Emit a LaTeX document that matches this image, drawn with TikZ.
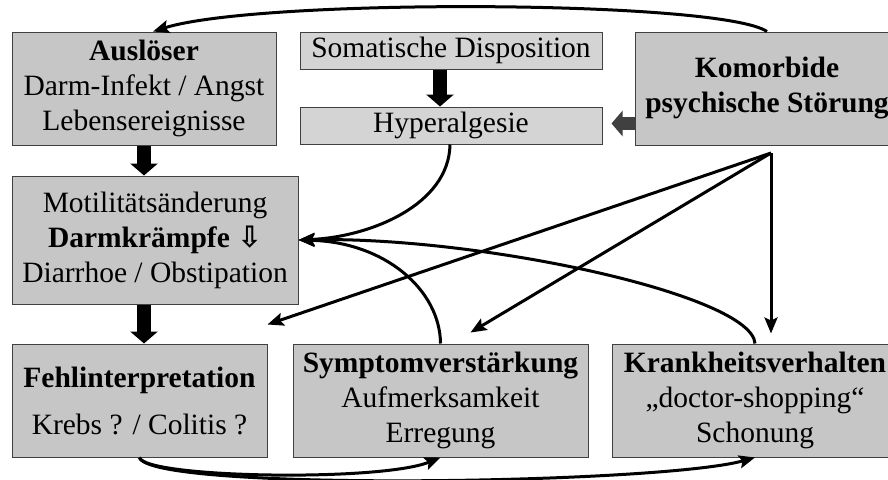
\documentclass[tikz,border=0pt]{standalone}
\usepackage{fontspec}
\setmainfont{Liberation Serif}
\newfontfamily\arrowfont{DejaVu Sans}
\usetikzlibrary{arrows.meta}
\definecolor{lightbox}{RGB}{212,212,212}
\definecolor{darkbox}{RGB}{198,198,198}
\definecolor{edgegray}{RGB}{64,64,64}
\tikzset{
  box/.style={draw=edgegray, line width=1pt, fill=darkbox, align=center, inner sep=0pt,
    font=\fontsize{29.5}{35}\selectfont},
  bigarrow/.style={line width=14pt, -{Triangle[length=12pt,width=27pt]}},
  link/.style={line width=3pt, -{Stealth[length=16pt,width=13pt,inset=3pt]}}
}

\begin{document}
\begin{tikzpicture}[x=1pt, y=-1pt]
        \useasboundingbox (0,0) rectangle (888,479);
        \clip (0,0) rectangle (888,479);
        % top row
        \node[box, minimum width=264pt, minimum height=113pt] (ausl) at (144,88.5)
            {\textbf{Auslöser}\\Darm-Infekt / Angst\\Lebensereignisse};
        \node[box, fill=lightbox, minimum width=302pt, minimum height=37pt] (soma) at (451,50.5)
            {Somatische Disposition};
        \node[box, fill=lightbox, minimum width=302pt, minimum height=37pt] (hyper) at (451,125.5)
            {Hyperalgesie};
        \node[box, minimum width=264pt, minimum height=113pt] (komor) at (767,88.5)
            {\textbf{Komorbide}\\\textbf{psychische Störung}};
        % middle row
        \node[box, minimum width=286pt, minimum height=128pt] (motil) at (155,240)
            {Motilitätsänderung\\\textbf{Darmkrämpfe {\arrowfont ⇩}}\\Diarrhoe / Obstipation};
        % bottom row
        \node[box, minimum width=255pt, minimum height=113pt] (fehl) at (139.5,400.5)
            {\textbf{Fehlinterpretation}\\[12pt]Krebs ? / Colitis ?};
        \node[box, minimum width=295pt, minimum height=113pt] (sympt) at (440.5,400.5)
            {\textbf{Symptomverstärkung}\\Aufmerksamkeit\\Erregung};
        \node[box, minimum width=286pt, minimum height=113pt] (krank) at (755,400.5)
            {\textbf{Krankheitsverhalten}\\„doctor-shopping“\\Schonung};
        % block arrows
        \draw[bigarrow] (ausl.south) -- (ausl.south |- motil.north);
        \draw[bigarrow] (motil.south -| ausl.south) -- (ausl.south |- fehl.north);
        \draw[bigarrow] ([xshift=-11pt]soma.south) -- ([xshift=-11pt]hyper.north);
        \draw[bigarrow, draw=edgegray, line width=13pt, -{Triangle[length=11pt,width=25pt]}]
            ([yshift=2pt]komor.west |- hyper.east) -- ([xshift=9pt,yshift=2pt]hyper.east);
        % curved links
        \draw[link] (komor.north) .. controls (720,0) and (260,-2) .. ([xshift=9pt]ausl.north);
        \draw[link] ([xshift=-1pt]hyper.south) .. controls (449,205) and (370,237) .. (motil.east);
        \draw[link] (sympt.north) .. controls (440,290) and (385,242) .. (motil.east);
        \draw[link] (krank.north) .. controls (752,295) and (480,236) .. (motil.east);
        \draw[link] (fehl.south) .. controls (145,478) and (380,482) .. (sympt.south);
        \draw[link] (fehl.south) .. controls (150,492) and (660,484) .. (krank.south);
        % links from the comorbidity
        \coordinate (fork) at (771,153);
        \draw[link] (fork) -- ([yshift=19pt]fehl.north east);
        \draw[link] (fork) -- ([xshift=30pt,yshift=11pt]sympt.north);
        \draw[link, shorten >=10pt] (fork) -- (krank.north -| fork);
    \end{tikzpicture}
\end{document}
